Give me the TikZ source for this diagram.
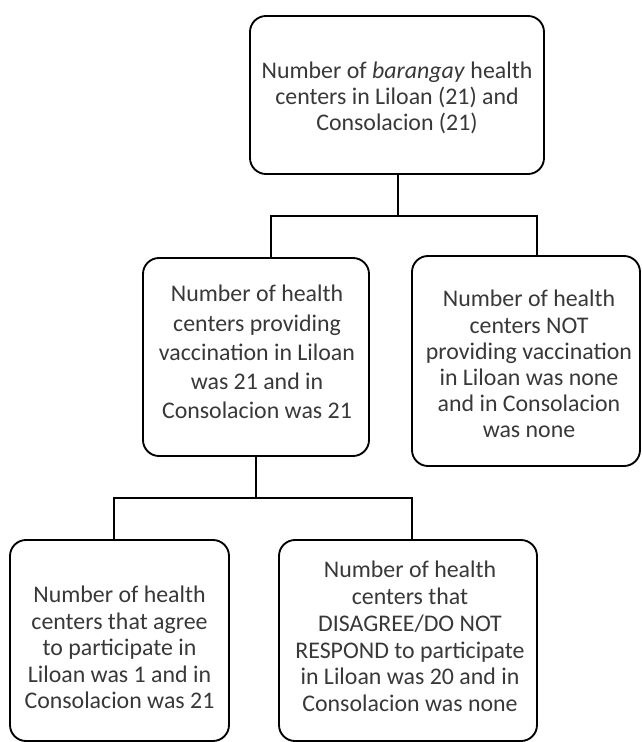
\documentclass[tikz,border=0pt]{standalone}
\usepackage{fontspec}
\setmainfont{Carlito}
\begin{document}
\begin{tikzpicture}[x=0.75pt,y=-0.75pt,
  box/.style={draw=black, line width=1.4pt, rounded corners=12pt, inner sep=0pt},
  txt/.style={align=center, inner sep=0pt, text=black!78, font=\fontsize{17.9}{19.6}\selectfont},
  conn/.style={draw=black, line width=1.4pt}]
\useasboundingbox (0,0) rectangle (642,742);
% boxes
\node[box, minimum width=294*0.75pt, minimum height=158*0.75pt] (top) at (397,95) {};
\node[box, minimum width=226*0.75pt, minimum height=198*0.75pt] (ml) at (256,357) {};
\node[box, minimum width=228*0.75pt, minimum height=210*0.75pt] (mr) at (526,361) {};
\node[box, minimum width=219*0.75pt, minimum height=201*0.75pt] (bl) at (119.5,640.5) {};
\node[box, minimum width=258*0.75pt, minimum height=201*0.75pt] (br) at (408,640.5) {};
% texts
\node[txt] (topt) at (397,98)
  {Number of \textit{barangay} health\\ centers in Liloan (21) and\\ Consolacion (21)};
\node[txt, font=\fontsize{17.9}{21.9}\selectfont] (mlt) at (257,352)
  {Number of health\\ centers providing\\ vaccination in Liloan\\ was 21 and in\\ Consolacion was 21};
\node[txt] (mrt) at (529,364)
  {Number of health\\ centers NOT\\ providing vaccination\\ in Liloan was none\\ and in Consolacion\\ was none};
\node[txt, font=\fontsize{17.9}{19.9}\selectfont] (blt) at (119.5,647.5)
  {Number of health\\ centers that agree\\ to participate in\\ Liloan was 1 and in\\ Consolacion was 21};
\node[txt, font=\fontsize{17.9}{20.1}\selectfont] (brt) at (410,636.5)
  {Number of health\\ centers that\\ DISAGREE/DO NOT\\ RESPOND to participate\\ in Liloan was 20 and in\\ Consolacion was none};
% connectors
\coordinate (j1) at (398,216);
\coordinate (h1l) at (271,216);
\coordinate (h1r) at (537,216);
\draw[conn] (top.south -| j1) -- (j1);
\draw[conn] (h1l |- ml.north) -- (h1l) -- (h1r) -- (h1r |- mr.north);
\coordinate (j2) at (256,498);
\coordinate (h2l) at (114,498);
\coordinate (h2r) at (412,498);
\draw[conn, line width=2.2pt] (ml.south) -- (j2);
\draw[conn] (h2l |- bl.north) -- (h2l) -- (h2r) -- (h2r |- br.north);
\end{tikzpicture}
\end{document}
